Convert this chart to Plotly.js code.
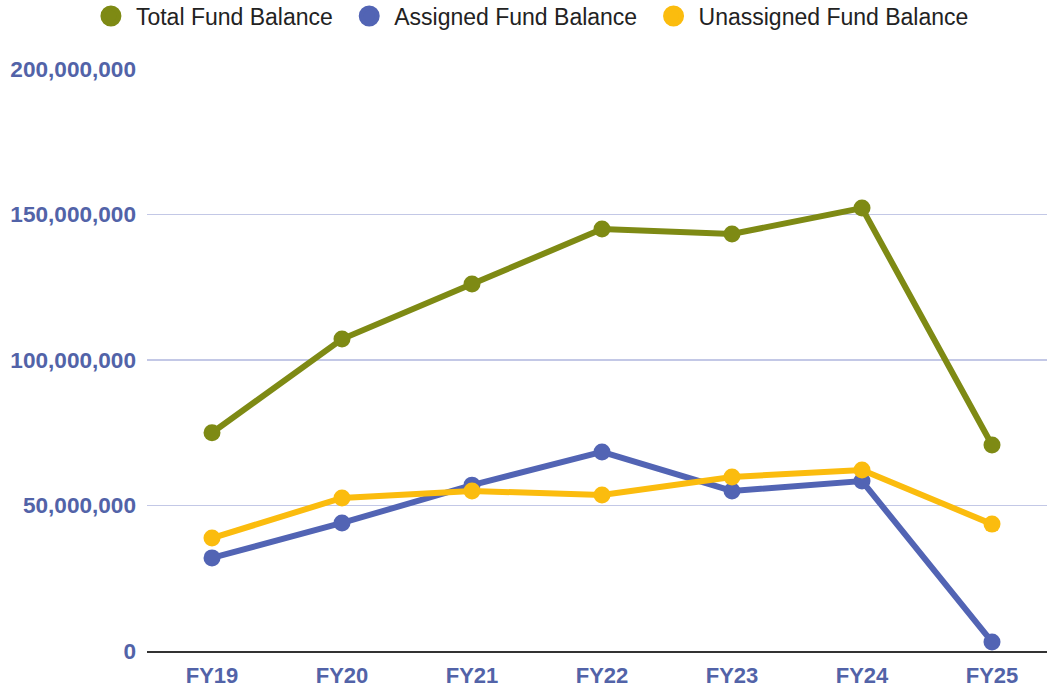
<!DOCTYPE html>
<html><head><meta charset="utf-8">
<script src="https://cdn.plot.ly/plotly-3.0.1.min.js"></script>
<style>html,body{margin:0;padding:0;background:#fff}#chart{width:1047px;height:688px}</style>
</head><body><div id="chart"></div>
<script>
const categories = ["FY19","FY20","FY21","FY22","FY23","FY24","FY25"];
const totalFund = [75000000, 107200000, 126100000, 145000000, 143300000, 152200000, 70800000];
const assignedFund = [32000000, 44000000, 57000000, 68400000, 55000000, 58400000, 3100000];
const unassignedFund = [38800000, 52600000, 55000000, 53600000, 59800000, 62200000, 43600000];
const yTicks = [0, 50000000, 100000000, 150000000, 200000000];
const yTickText = ["0", "50,000,000", "100,000,000", "150,000,000", "200,000,000"];
const seriesNames = ["Total Fund Balance", "Assigned Fund Balance", "Unassigned Fund Balance"];
const seriesColors = ["#7e8a14", "#5264b4", "#fbbc0e"];
const seriesValues = [totalFund, assignedFund, unassignedFund];

const data = [];
seriesValues.forEach((y, i) => {
  data.push({x: categories, y: y, name: seriesNames[i], type: 'scatter', mode: 'lines+markers',
    line: {color: seriesColors[i], width: 6}, marker: {color: seriesColors[i], size: 17},
    cliponaxis: false, showlegend: false});
});
seriesValues.forEach((y, i) => {
  data.push({x: [categories[0]], y: [null], name: seriesNames[i] + '\u00a0', type: 'scatter', mode: 'markers',
    marker: {color: seriesColors[i], size: 16, line: {width: 5, color: seriesColors[i]}},
    showlegend: true, hoverinfo: 'skip'});
});
const layout = {
  width: 1047, height: 688,
  margin: {l: 147, r: 0, t: 69, b: 37},
  paper_bgcolor: '#fff', plot_bgcolor: '#fff',
  font: {family: 'Liberation Sans, Arial, sans-serif'},
  showlegend: true,
  legend: {orientation: 'h', x: 0.509, xanchor: 'center', xref: 'container', y: 0.9767, yref: 'container', yanchor: 'middle',
    font: {size: 23, color: '#222'}, itemsizing: 'trace', itemwidth: 40, traceorder: 'normal'},
  xaxis: {type: 'category', range: [-0.5, 6.423], showgrid: false, zeroline: false,
    showline: true, linecolor: '#333', linewidth: 2,
    ticks: '', tickfont: {size: 22, color: '#5263a8', weight: 'bold'}, ticklabelstandoff: 4},
  yaxis: {range: [0, 200000000], tickvals: yTicks, ticktext: yTickText, showgrid: true,
    gridcolor: '#c3c8e6', gridwidth: 1.5, zeroline: false, showline: false, ticks: '',
    tickfont: {size: 22.6, color: '#5263a8', weight: 'bold'}, ticklabelstandoff: 10}
};
Plotly.newPlot('chart', data, layout, {displayModeBar: false, staticPlot: true});
</script></body></html>
